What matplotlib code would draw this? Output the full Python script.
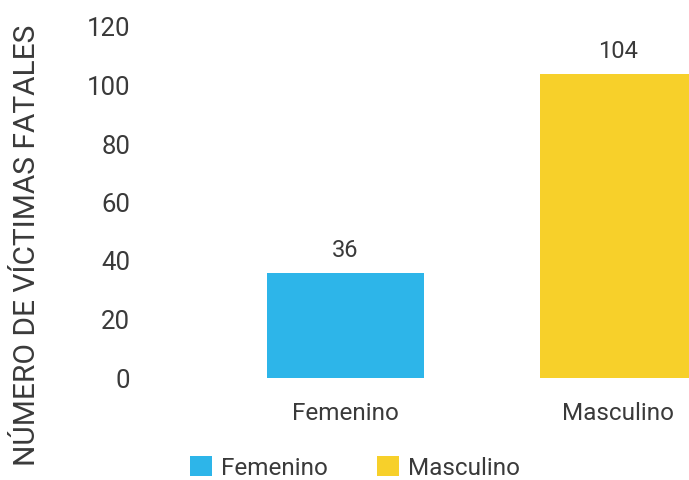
import matplotlib
matplotlib.use("Agg")
import matplotlib.pyplot as plt

categories = ["Femenino", "Masculino"]
values = [36, 104]
colors = ["#2db5e9", "#f7d02a"]
yticks = [0, 20, 40, 60, 80, 100, 120]
ylabel = "NÚMERO DE VÍCTIMAS FATALES"

plt.rcParams['font.family'] = ['Roboto', 'DejaVu Sans']
txt = "#3a3a3a"

W, H = 689, 480
fig = plt.figure(figsize=(W / 100, H / 100), dpi=100)
left_px, right_px, top_px, bot_px = 140, 689, 27, 378
ax = fig.add_axes([left_px / W, 1 - bot_px / H, (right_px - left_px) / W, (bot_px - top_px) / H])

x = list(range(len(categories)))
bars = ax.bar(x, values, width=0.575, color=colors, label=categories)
ax.set_xlim((left_px - 345.5) / 273, (right_px - 345.5) / 273)
ax.set_ylim(0, 120)
ax.set_yticks(yticks)
ax.set_yticklabels([str(v) for v in yticks], fontsize=18.5, color=txt)
ax.set_xticks(x)
ax.set_xticklabels(categories, fontsize=17.5, color=txt)
ax.tick_params(axis='both', length=0)
ax.tick_params(axis='y', pad=7)
ax.tick_params(axis='x', pad=17)
for s in ax.spines.values():
    s.set_visible(False)

for xi, v in zip(x, values):
    ax.annotate(str(v), (xi, v), xytext=(0, 8), textcoords='offset points',
                ha='center', va='bottom', fontsize=17, color=txt)

fig.text(27 / W, 1 - 245 / H, ylabel, rotation=90, ha='center', va='center',
         fontsize=21.5, color=txt)

leg = fig.legend(handles=list(bars), labels=categories, loc='center',
                 bbox_to_anchor=(355 / W, 1 - 468 / H), ncol=2, frameon=False,
                 fontsize=17.5, handlelength=0.9, handleheight=0.9,
                 handletextpad=0.4, columnspacing=2.0)
for t in leg.get_texts():
    t.set_color(txt)

fig.savefig("out.png", dpi=100)
